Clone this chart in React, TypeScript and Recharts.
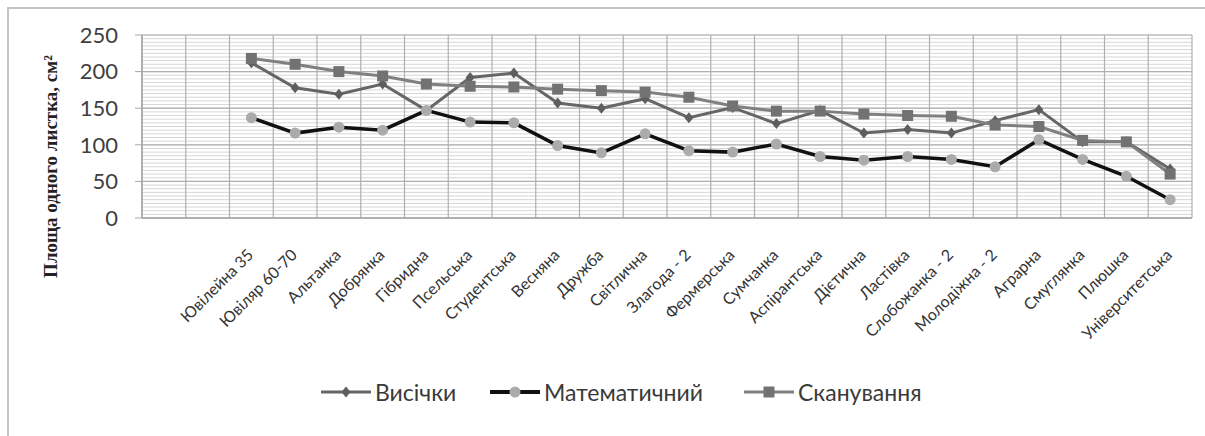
import React from "react";
import {
  LineChart,
  Line,
  XAxis,
  YAxis,
  CartesianGrid,
  Legend,
} from "recharts";

// first two category slots are empty in the original sheet
const categories = [
  "", "",
  "Ювілейна 35", "Ювіляр 60-70", "Альтанка", "Добрянка", "Гібридна", "Псельська",
  "Студентська", "Весняна", "Дружба", "Світлична", "Злагода - 2", "Фермерська",
  "Сумчанка", "Аспірантська", "Дієтична", "Ластівка", "Слобожанка - 2",
  "Молодіжна - 2", "Аграрна", "Смуглянка", "Плюшка", "Університетська",
];

const vysichky = [null, null, 212, 178, 169, 183, 147, 192, 198, 157, 150, 163, 137, 151, 129, 147, 116, 121, 116, 133, 148, 104, 104, 67];
const matematychnyi = [null, null, 137, 116, 124, 120, 147, 131, 130, 99, 89, 115, 92, 90, 101, 84, 79, 84, 80, 70, 107, 80, 57, 25];
const skanuvannia = [null, null, 218, 210, 200, 194, 183, 180, 179, 176, 174, 172, 165, 153, 146, 146, 142, 140, 139, 127, 125, 106, 104, 60];

const yMax = 250;
const yTicks = [0, 50, 100, 150, 200, 250];
const minorValues = Array.from({ length: 51 }, (_, i) => i * 5);

const data = categories.map((name, i) => ({
  name,
  vysichky: vysichky[i],
  matematychnyi: matematychnyi[i],
  skanuvannia: skanuvannia[i],
}));

const LABEL_FONT = "Lato, 'Open Sans', sans-serif";
// half a category slot, so points sit in the middle of each band like Excel does
const HALF_BAND = 1050 / categories.length / 2;

const minorLines = ({ yAxis, offset }: any) => {
  const s = yAxis && yAxis.scale;
  if (typeof s === "function") return minorValues.map((v) => s(v));
  if (s && typeof s.map === "function") return minorValues.map((v) => s.map(v));
  return minorValues.map((v) => offset.top + offset.height * (1 - v / yMax));
};

const Diamond = ({ cx, cy }: any) =>
  cx == null || cy == null ? null : (
    <path d={`M${cx},${cy - 5.5}L${cx + 4.5},${cy}L${cx},${cy + 5.5}L${cx - 4.5},${cy}Z`} fill="#5e5e5e" />
  );

const Square = ({ cx, cy }: any) =>
  cx == null || cy == null ? null : (
    <rect x={cx - 5.5} y={cy - 5.5} width={11} height={11} fill="#727272" />
  );

const Circle = ({ cx, cy }: any) =>
  cx == null || cy == null ? null : <circle cx={cx} cy={cy} r={5.5} fill="#ababab" />;

const XTick = ({ x, y, payload }: any) => (
  <g transform={`translate(${x + 3},${y + 36})`}>
    <text
      textAnchor="end"
      transform="rotate(-45)"
      fontFamily={LABEL_FONT}
      fontSize={16}
      fill="#333"
    >
      {payload.value}
    </text>
  </g>
);

const YTitle = ({ viewBox }: any) => {
  const cx = 50;
  const cy = viewBox.y + viewBox.height / 2 + 40;
  return (
    <text
      x={cx}
      y={cy}
      transform={`rotate(-90, ${cx}, ${cy})`}
      textAnchor="middle"
      dominantBaseline="central"
      fontFamily="'Liberation Serif', 'DejaVu Serif', serif"
      fontWeight="bold"
      fontSize={19}
      fill="#222"
    >
      Площа одного листка, см²
    </text>
  );
};

const legendItems = [
  { label: "Висічки", line: "#666", width: 3, marker: "diamond", left: 3 },
  { label: "Математичний", line: "#111", width: 4, marker: "circle", left: 172 },
  { label: "Сканування", line: "#808080", width: 3, marker: "square", left: 426 },
];

const LegendContent = () => (
  <div style={{ position: "relative", height: 30, fontFamily: LABEL_FONT, fontSize: 23, color: "#3a3a3a" }}>
    {legendItems.map((it) => (
      <div
        key={it.label}
        style={{ position: "absolute", left: it.left, top: 0, display: "flex", alignItems: "center", whiteSpace: "nowrap" }}
      >
        <svg width={50} height={16} style={{ marginRight: 4 }}>
          <line x1={0} y1={8} x2={50} y2={8} stroke={it.line} strokeWidth={it.width} />
          {it.marker === "diamond" && <Diamond cx={25} cy={8} />}
          {it.marker === "circle" && <Circle cx={25} cy={8} />}
          {it.marker === "square" && <Square cx={25} cy={8} />}
        </svg>
        <span>{it.label}</span>
      </div>
    ))}
  </div>
);

export default function App() {
  return (
    <div style={{ position: "absolute", left: 0, top: 0, width: 1205, height: 436, background: "#fff", overflow: "hidden" }}>
      <div
        style={{
          position: "absolute",
          left: 7,
          top: 7,
          width: 1300,
          height: 500,
          borderTop: "2px solid #c4c4c4",
          borderLeft: "2px solid #c4c4c4",
        }}
      />
      <LineChart
        width={1205}
        height={436}
        data={data}
        margin={{ top: 35, right: 13, left: 0, bottom: 0 }}
        style={{ position: "absolute", left: 0, top: 0 }}
      >
        <CartesianGrid
          vertical={false}
          stroke="#d6d6d6"
          strokeWidth={1}
          horizontalCoordinatesGenerator={minorLines}
        />
        <CartesianGrid
          stroke="#b0b0b0"
          strokeWidth={1.2}
          verticalCoordinatesGenerator={({ offset }: any) =>
            Array.from({ length: categories.length + 1 }, (_, i) => offset.left + (i * offset.width) / categories.length)
          }
        />
        <XAxis
          dataKey="name"
          interval={0}
          height={188}
          padding={{ left: HALF_BAND, right: HALF_BAND }}
          tick={<XTick />}
          tickLine={false}
          tickSize={0}
          axisLine={{ stroke: "#a6a6a6", strokeWidth: 1.5 }}
        />
        <YAxis
          domain={[0, yMax]}
          ticks={yTicks}
          width={142}
          tickSize={7}
          tickMargin={17}
          tickLine={{ stroke: "#a6a6a6" }}
          axisLine={{ stroke: "#a6a6a6", strokeWidth: 1.5 }}
          tick={{ fontFamily: LABEL_FONT, fontSize: 22, fill: "#3f3f3f" }}
          label={<YTitle />}
        />
        <Legend
          content={<LegendContent />}
          wrapperStyle={{ top: 378, left: 318, width: 800, height: 30 }}
        />
        <Line
          dataKey="vysichky"
          name="Висічки"
          stroke="#666"
          strokeWidth={3}
          dot={<Diamond />}
          activeDot={false}
          isAnimationActive={false}
        />
        <Line
          dataKey="matematychnyi"
          name="Математичний"
          stroke="#111"
          strokeWidth={3.5}
          dot={<Circle />}
          activeDot={false}
          isAnimationActive={false}
        />
        <Line
          dataKey="skanuvannia"
          name="Сканування"
          stroke="#808080"
          strokeWidth={3}
          dot={<Square />}
          activeDot={false}
          isAnimationActive={false}
        />
      </LineChart>
    </div>
  );
}
